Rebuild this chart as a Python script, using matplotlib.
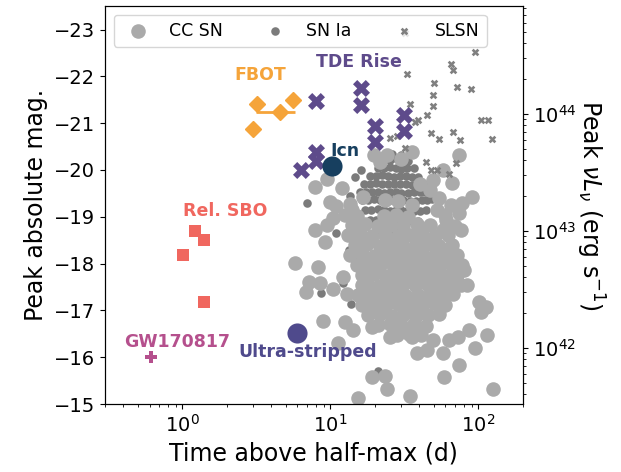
import matplotlib.pyplot as plt
import numpy as np

# ---- core-collapse SNe ----
cc_t = [5.8, 7.9, 9.5, 11.9, 9.9, 11.0, 7.9, 9.5, 10.4, 9.2, 14.0, 14.0, 16.5,
        24.0, 30.2, 35.4, 21.5, 19.6, 74.5, 57.5, 49.1, 40.1, 46.8, 54.6, 66.8,
        78.0, 91.0, 52.2, 74.5, 60.9, 76.8, 57.5,
        8.2, 7.2, 8.5, 6.9, 10.5, 12.9, 12.1, 8.9, 12.5, 14.2, 11.2, 19.0, 25.2,
        35.9, 49.1, 38.3, 44.7, 57.5, 63.8, 73.3, 87.0, 95.5, 101.6, 112, 114,
        104, 74.5, 59.0, 125, 24.0, 34.3, 19.0, 23.3, 15.3, 80.5, 84.4,
        # dense core
        13.5, 23.3, 28.5, 35.4, 65.8,
        12.5, 15.1, 22.9, 27.6, 33.3, 59.9,
        14.0, 17.1, 20.9, 25.6, 31.2, 38.3, 46.8, 70.0,
        13.1, 15.8, 19.0, 23.3, 28.5, 34.3, 41.4, 50.6, 62.8,
        14.6, 17.6, 21.5, 26.0, 31.2, 37.7, 45.4, 54.6, 66.8,
        13.5, 16.3, 19.6, 23.7, 28.5, 34.3, 41.4, 49.8, 59.9, 72.2,
        15.1, 18.2, 21.8, 26.4, 31.8, 38.3, 46.1, 55.5, 66.8, 78.0,
        16.3, 19.6, 23.7, 28.5, 34.3, 41.4, 49.8, 59.9, 72.2,
        16.3, 17.6, 21.2, 25.6, 30.7, 37.1, 44.7, 53.8, 64.8, 76.8,
        15.3, 18.5, 22.2, 26.8, 32.3, 38.9, 46.8, 56.3, 67.9,
        16.3, 19.6, 23.7, 28.5, 34.3, 41.4, 49.8, 59.9,
        17.9, 21.5, 26.0, 31.2, 37.7, 45.4, 54.6,
        20.9, 25.2, 30.2, 36.5, 44.0,
        28.0, 33.8, 40.7]
cc_mag = [-18.01, -19.63, -19.80, -19.61, -19.31, -19.23, -18.71, -18.82, -18.97,
          -18.46, -18.61, -19.14, -19.42, -20.31, -20.23, -20.38, -20.16, -20.33,
          -20.31, -19.99, -19.78, -19.71, -19.57, -19.40, -19.72, -19.29, -19.42,
          -19.14, -19.08, -18.93, -18.71, -18.71,
          -17.93, -17.61, -17.58, -17.39, -17.46, -17.35, -17.71, -16.77, -16.75,
          -16.58, -16.30, -16.65, -16.43, -16.43, -16.37, -16.09, -16.16, -16.09,
          -16.37, -16.43, -16.58, -16.20, -17.18, -17.07, -16.48, -16.97, -15.84,
          -15.58, -15.32, -15.32, -15.17, -15.58, -15.60, -15.13, -17.86, -17.54,
          # dense core
          -19.27, -19.35, -19.33, -19.26, -19.25,
          -19.03, -19.01, -19.02, -19.04, -19.00, -19.03,
          -18.82, -18.84, -18.80, -18.83, -18.81, -18.85, -18.82, -18.80,
          -18.61, -18.63, -18.60, -18.62, -18.59, -18.61, -18.64, -18.60, -18.62,
          -18.39, -18.41, -18.38, -18.40, -18.37, -18.39, -18.42, -18.38, -18.40,
          -18.18, -18.20, -18.17, -18.19, -18.16, -18.18, -18.21, -18.17, -18.19, -18.18,
          -17.97, -17.99, -17.96, -17.98, -17.95, -17.97, -18.00, -17.96, -17.98, -17.97,
          -17.75, -17.77, -17.74, -17.76, -17.73, -17.75, -17.78, -17.74, -17.76,
          -17.54, -17.56, -17.53, -17.55, -17.52, -17.54, -17.57, -17.53, -17.55, -17.54,
          -17.33, -17.35, -17.32, -17.34, -17.31, -17.33, -17.36, -17.32, -17.34,
          -17.12, -17.14, -17.11, -17.13, -17.10, -17.12, -17.15, -17.11,
          -16.90, -16.92, -16.89, -16.91, -16.88, -16.90, -16.93,
          -16.69, -16.71, -16.68, -16.70, -16.67,
          -16.48, -16.50, -16.47]

# ---- SNe Ia ----
ia_t = [26.0, 30.0,
        23.3, 25.5, 28.0, 30.5, 33.3,
        20.9, 23.0, 25.2, 27.6, 30.2, 33.2, 36.5,
        18.5, 20.3, 22.2, 24.4, 26.8, 29.4, 32.3, 35.4, 38.9,
        16.8, 18.4, 20.2, 22.2, 24.4, 26.8, 29.4, 32.3, 35.4, 38.9, 42.7,
        15.8, 17.3, 19.0, 20.9, 22.9, 25.2, 27.6, 30.2, 33.3, 36.5, 40.1, 43.3, 46.8,
        16.3, 17.9, 19.6, 21.5, 23.7, 26.0, 28.5, 31.2, 34.3, 37.7, 41.4, 44.7, 48.3,
        17.1, 18.9, 20.9, 22.9, 25.2, 27.6, 30.2, 33.2, 36.5, 40.1, 44.0,
        18.5, 20.3, 22.2, 24.4, 26.8, 29.4, 32.3, 35.4, 38.9,
        19.9, 22.4, 25.2, 28.3, 31.8,
        21.5, 26.0, 31.5,
        7.0, 11.0, 14.6, 16.0, 13.3, 8.6, 13.7, 20.9, 15.1, 12.1, 13.5]
ia_mag = [-20.34, -20.33,
          -20.21, -20.22, -20.23, -20.22, -20.20,
          -20.04, -20.05, -20.06, -20.04, -20.03, -20.05, -20.05,
          -19.87, -19.88, -19.89, -19.87, -19.86, -19.88, -19.88, -19.86, -19.85,
          -19.70, -19.71, -19.72, -19.70, -19.69, -19.70, -19.71, -19.69, -19.68, -19.70, -19.70,
          -19.52, -19.53, -19.54, -19.52, -19.51, -19.53, -19.53, -19.51, -19.50, -19.52,
          -19.52, -19.53, -19.54,
          -19.35, -19.36, -19.37, -19.35, -19.34, -19.36, -19.36, -19.35, -19.33, -19.34,
          -19.35, -19.36, -19.37,
          -19.14, -19.15, -19.16, -19.14, -19.13, -19.15, -19.15, -19.13, -19.12, -19.13, -19.14,
          -18.93, -18.94, -18.95, -18.93, -18.92, -18.94, -18.94, -18.92, -18.91,
          -18.67, -18.68, -18.69, -18.67, -18.66,
          -18.41, -18.42, -18.40,
          -19.29, -18.65, -19.84, -20.01, -18.29, -17.37, -17.14, -15.71, -18.12,
          -17.58, -19.44]

# ---- SLSNe ----
sl_t = [32.2, 95.5, 65.5, 67.9, 32.9, 49.8, 71.4, 89.3, 49.2, 49.2, 34.3, 44.9,
        39.0, 37.6, 104, 117, 48.0, 54.6, 67.1, 75.3, 123, 25.2, 28.0, 31.8, 44.4,
        47.9, 52.8, 63.5, 70.3]
sl_mag = [-22.92, -22.52, -22.27, -22.14, -22.04, -21.86, -21.77, -21.74, -21.61,
          -21.36, -21.42, -21.17, -21.07, -21.02, -21.07, -21.06, -20.78, -20.67,
          -20.81, -20.65, -20.67, -20.68, -20.72, -20.46, -20.17, -19.99, -20.01,
          -19.91, -20.14]

# ---- special classes ----
fbot_t = [3.18, 5.56, 4.57, 3.02]
fbot_mag = [-21.42, -21.49, -21.24, -20.88]
fbot_terr_lo = [0, 0, 1.4, 0]
fbot_terr_hi = [0, 0, 1.2, 0]

tde_t = [8.0, 16.0, 16.0, 20.0, 31.7, 31.7, 20.0, 8.0, 8.0, 6.3]
tde_mag = [-21.47, -21.76, -21.38, -20.93, -21.17, -20.83, -20.60, -20.38, -20.20, -19.99]

sbo_t = [1.22, 1.41, 1.01, 1.41]
sbo_mag = [-18.70, -18.50, -18.18, -17.19]

gw_t = [0.61]
gw_mag = [-16.0]

icn_t = [10.2]
icn_mag = [-20.08]

us_t = [5.98]
us_mag = [-16.51]

# magnitude that corresponds to nu L_nu = 1e44 erg/s
mag_1e44 = -21.2

c_fbot = '#f5a43a'
c_sbo = '#f0675f'
c_gw = '#b5508d'
c_tde = '#5e4b8b'
c_us = '#4f4a8c'
c_icn = '#173f5f'

fig = plt.figure(figsize=(6.21, 4.72), dpi=100)
ax = fig.add_axes([0.169, 0.144, 0.673, 0.843])

h_ia = ax.scatter(ia_t, ia_mag, s=38, color='#7b7b7b', linewidths=0, label='SN Ia', zorder=1)
h_cc = ax.scatter(cc_t, cc_mag, s=110, color='#aaaaaa', linewidths=0, label='CC SN', zorder=2)
h_sl = ax.scatter(sl_t, sl_mag, s=30, marker='X', color='#808080', linewidths=0, label='SLSN', zorder=3)

ax.errorbar(fbot_t, fbot_mag, xerr=[fbot_terr_lo, fbot_terr_hi], fmt='D', ms=8.5,
            color=c_fbot, ecolor=c_fbot, elinewidth=2, capsize=0, zorder=5)
ax.scatter(tde_t, tde_mag, s=150, marker='X', color=c_tde, linewidths=0, zorder=5)
ax.scatter(sbo_t, sbo_mag, s=85, marker='s', color=c_sbo, linewidths=0, zorder=5)
ax.scatter(gw_t, gw_mag, s=70, marker='P', color=c_gw, linewidths=0, zorder=5)
ax.scatter(icn_t, icn_mag, s=210, marker='o', color=c_icn, linewidths=0, zorder=6)
ax.scatter(us_t, us_mag, s=210, marker='o', color=c_us, linewidths=0, zorder=6)

tkw = dict(fontsize=12.5, fontweight='bold', ha='center', va='center', zorder=7)
ax.text(3.36, -22.02, 'FBOT', color=c_fbot, **tkw)
ax.text(15.6, -22.30, 'TDE Rise', color=c_tde, **tkw)
ax.text(12.5, -20.41, 'Icn', color=c_icn, **tkw)
ax.text(1.95, -19.13, 'Rel. SBO', color=c_sbo, **tkw)
ax.text(0.92, -16.33, 'GW170817', color=c_gw, **tkw)
ax.text(7.06, -16.11, 'Ultra-stripped', color=c_us, **tkw)

ax.set_xscale('log')
ax.set_xlim(0.3, 200)
ax.set_ylim(-15, -23.5)
ax.set_yticks(np.arange(-23, -14, 1))
ax.tick_params(labelsize=14)
ax.set_xlabel('Time above half-max (d)', fontsize=17)
ax.set_ylabel('Peak absolute mag.', fontsize=17)

ax.legend(handles=[h_cc, h_ia, h_sl], loc='upper left', ncol=3, fontsize=12.5)

ax2 = ax.twinx()
ax2.set_yscale('log')
ax2.set_ylim(1e44 * 10 ** (-0.4 * (-15 - mag_1e44)), 1e44 * 10 ** (-0.4 * (-23.5 - mag_1e44)))
ax2.tick_params(labelsize=14)
ax2.set_ylabel(r'Peak $\nu L_\nu$ (erg s$^{-1}$)', fontsize=17, rotation=270, labelpad=22)

plt.savefig('out.png', dpi=100)
